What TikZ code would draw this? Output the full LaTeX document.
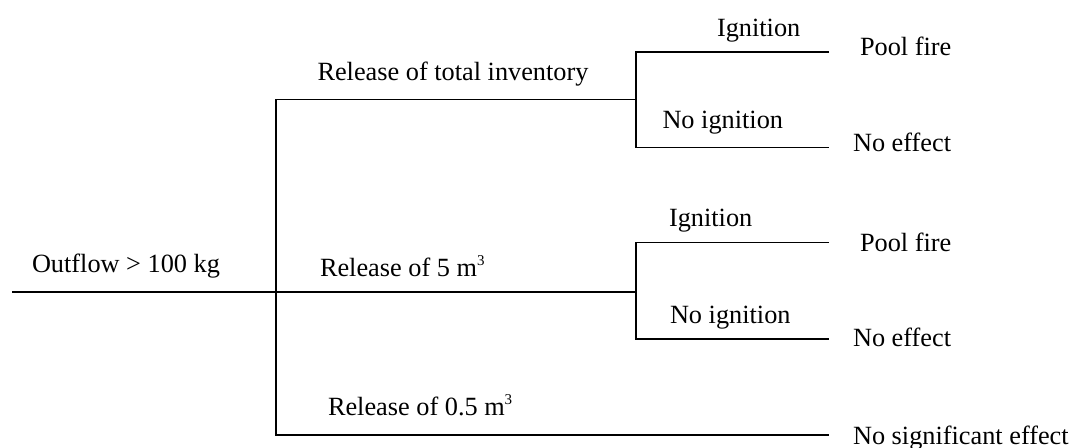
\documentclass[tikz,border=0pt]{standalone}
\usepackage{fontspec}
\setmainfont{Liberation Serif}
% small raised exponent, as set in the unit labels
\newcommand{\cubeexp}{\raisebox{11pt}{\fontsize{15}{15}\selectfont 3}}
\begin{document}
\begin{tikzpicture}[x=1pt,y=-1pt,
  branch/.style={line width=1.9pt,line join=miter},
  lbl/.style={anchor=base west,inner sep=0pt,outer sep=0pt,
    font=\fontsize{26.3}{30}\selectfont}]
\useasboundingbox (0,0) rectangle (1075,447);

% fork points and leaf ends of the event tree
\coordinate (root)  at (12,292);
\coordinate (fork)  at (276,292);
\coordinate (forkT) at (276,99.5);
\coordinate (forkB) at (276,435);
\coordinate (subA)  at (636,99.5);
\coordinate (subB)  at (636,292);
\coordinate (endA1) at (829,52);
\coordinate (endA2) at (829,147.5);
\coordinate (endB1) at (829,242.5);
\coordinate (endB2) at (829,339);
\coordinate (endC)  at (829,435);

% branches
\draw[branch] (root) -- (fork);
\draw[branch] (subA) -- (forkT) -- (forkB) -- (endC);
\draw[branch] (fork) -- (subB);
\draw[branch] (endA1) -| (subA) |- (endA2);
\draw[branch] (endB1) -| (subB) |- (endB2);

% labels
\node[lbl] (outflow) at (32,272.7) {Outflow > 100 kg};
\node[lbl] (total)   at (317.5,80) {Release of total inventory};
\node[lbl] (five)    at (320,276) {Release of 5 m\cubeexp};
\node[lbl] (half)    at (328,415.5) {Release of 0.5 m\cubeexp};

\node[lbl] (ignA)    at (717,36) {Ignition};
\node[lbl] (noignA)  at (662.5,128) {No ignition};
\node[lbl] (ignB)    at (669,226.7) {Ignition};
\node[lbl] (noignB)  at (670,323.3) {No ignition};

\node[lbl] (fireA)   at (860,55) {Pool fire};
\node[lbl] (noeffA)  at (853,151.7) {No effect};
\node[lbl] (fireB)   at (860,251) {Pool fire};
\node[lbl] (noeffB)  at (853,346.5) {No effect};
\node[lbl] (nosig)   at (853,444) {No significant effect};
\end{tikzpicture}
\end{document}
